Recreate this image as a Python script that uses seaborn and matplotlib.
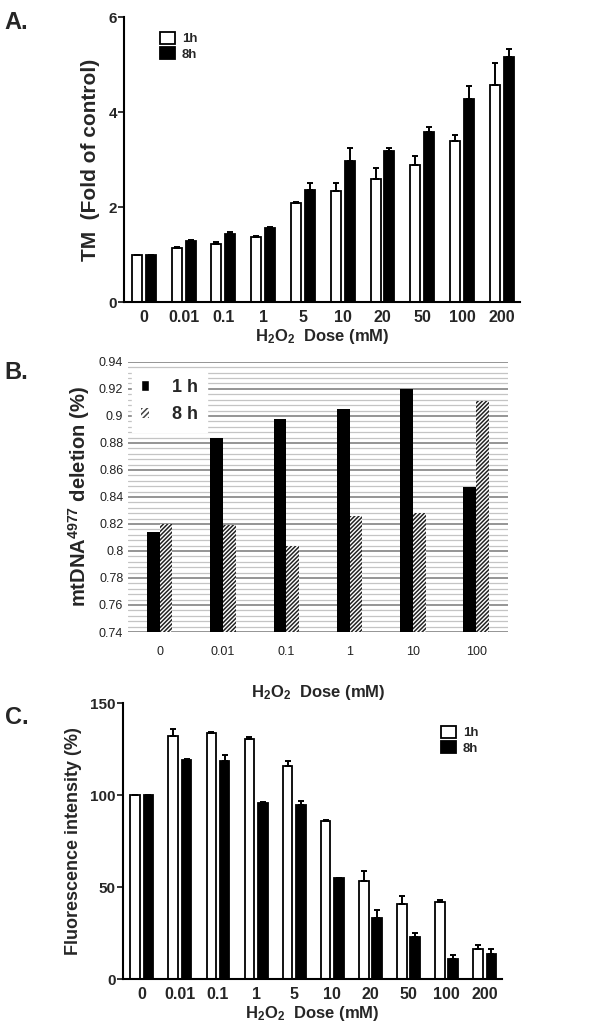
import numpy as np
import pandas as pd
import matplotlib.pyplot as plt
import matplotlib.patches as mpatches
import seaborn as sns

sns.set_style('white')
plt.rcParams['font.family'] = ['Liberation Sans', 'DejaVu Sans']
plt.rcParams['mathtext.fontset'] = 'custom'
plt.rcParams['mathtext.rm'] = 'Liberation Sans:bold'
plt.rcParams['mathtext.bf'] = 'Liberation Sans:bold'
plt.rcParams['mathtext.it'] = 'Liberation Sans:bold'
plt.rcParams['hatch.linewidth'] = 1.1

# Panel A: TM (fold of control)
doses_a = ['0', '0.01', '0.1', '1', '5', '10', '20', '50', '100', '200']
tm_1h = [1.0, 1.14, 1.23, 1.36, 2.08, 2.34, 2.60, 2.89, 3.39, 4.57]
tm_1h_err = [0.0, 0.02, 0.03, 0.03, 0.02, 0.16, 0.23, 0.19, 0.13, 0.46]
tm_8h = [1.0, 1.29, 1.44, 1.55, 2.36, 2.96, 3.18, 3.59, 4.28, 5.15]
tm_8h_err = [0.0, 0.02, 0.03, 0.03, 0.15, 0.29, 0.07, 0.09, 0.26, 0.17]

# Panel B: mtDNA4977 deletion
doses_b = ['0', '0.01', '0.1', '1', '10', '100']
del_1h = [0.814, 0.884, 0.898, 0.905, 0.920, 0.847]
del_8h = [0.820, 0.819, 0.804, 0.826, 0.828, 0.911]

# Panel C: fluorescence intensity
doses_c = ['0', '0.01', '0.1', '1', '5', '10', '20', '50', '100', '200']
fl_1h = [100.0, 132.0, 133.5, 130.5, 115.8, 85.9, 53.2, 40.9, 42.0, 16.5]
fl_1h_err = [0.0, 4.0, 0.6, 1.0, 3.0, 0.6, 5.8, 4.2, 1.0, 2.0]
fl_8h = [100.0, 119.1, 118.3, 95.7, 94.6, 54.8, 33.1, 22.8, 11.0, 13.6]
fl_8h_err = [0.0, 0.4, 3.5, 0.4, 2.4, 0.4, 4.5, 2.0, 2.0, 2.9]

fig = plt.figure(figsize=(5.96, 10.31), dpi=100)


def prism_panel(ax, doses, v1, e1, v8, e8, ymax, yticks, ylabel, ylabel_size):
    df = pd.DataFrame({'dose': doses * 2,
                       'value': v1 + v8,
                       'time': ['1h'] * len(doses) + ['8h'] * len(doses)})
    sns.barplot(data=df, x='dose', y='value', hue='time', order=doses,
                palette={'1h': 'white', '8h': 'black'}, edgecolor='black',
                linewidth=1.3, width=0.7, gap=0.28, errorbar=None, ax=ax,
                legend=False)
    for cont, vals, errs in zip(ax.containers, [v1, v8], [e1, e8]):
        xs = [b.get_x() + b.get_width() / 2 for b in cont]
        ax.errorbar(xs, vals, yerr=[np.zeros(len(errs)), errs], fmt='none',
                    ecolor='black', elinewidth=1.4, capsize=2.5, capthick=1.4)
    ax.set_xlim(-0.5, len(doses) - 0.55)
    ax.set_ylim(0, ymax)
    ax.set_yticks(yticks)
    sns.despine(ax=ax)
    for s in ['left', 'bottom']:
        ax.spines[s].set_linewidth(1.5)
        ax.spines[s].set_color('black')
    ax.tick_params(axis='y', direction='out', length=4, width=1.3, left=True,
                   labelsize=11, pad=1)
    ax.tick_params(axis='x', length=0, labelsize=11.5, pad=6)
    for t in ax.get_xticklabels() + ax.get_yticklabels():
        t.set_fontweight('bold')
    ax.set_xlabel('H$_2$O$_2$  Dose (mM)', fontsize=12, fontweight='bold',
                  labelpad=1)
    ax.set_ylabel(ylabel, fontsize=ylabel_size, fontweight='bold', labelpad=6)


handles_a = [mpatches.Patch(facecolor='white', edgecolor='black', lw=1.3, label='1h'),
             mpatches.Patch(facecolor='black', edgecolor='black', lw=1.3, label='8h')]

# ---- A ----
ax_a = fig.add_axes([0.208, 0.707, 0.664, 0.2765])
prism_panel(ax_a, doses_a, tm_1h, tm_1h_err, tm_8h, tm_8h_err, 6, [0, 2, 4, 6],
            'TM  (Fold of control)', 15)
ax_a.legend(handles=handles_a, loc='upper left', bbox_to_anchor=(0.06, 0.99),
            frameon=False, handlelength=1.2, handleheight=1.0,
            handletextpad=0.5, labelspacing=0.15, prop={'weight': 'bold', 'size': 9.5})
fig.text(0.008, 0.972, 'A.', fontsize=17, fontweight='bold')

# ---- B ----
ax_b = fig.add_axes([0.215, 0.387, 0.637, 0.262])
df_b = pd.DataFrame({'dose': doses_b * 2,
                     'value': del_1h + del_8h,
                     'time': ['1 h'] * len(doses_b) + ['8 h'] * len(doses_b)})
ax_b.set_ylim(0.74, 0.94)
for y in np.arange(0.74, 0.9401, 0.004):
    major = abs((y - 0.74) / 0.02 - round((y - 0.74) / 0.02)) < 1e-6
    ax_b.axhline(y, color='#8c8c8c' if major else '#c4c4c4',
                 lw=1.3 if major else 0.9, zorder=0)
sns.barplot(data=df_b, x='dose', y='value', hue='time', order=doses_b,
            palette={'1 h': 'black', '8 h': 'white'}, width=0.4, gap=0,
            errorbar=None, ax=ax_b, legend=False, linewidth=0, zorder=2)
for b in ax_b.containers[1]:
    b.set_hatch('////////')
    b.set_edgecolor('#222222')
    b.set_linewidth(0)
# Excel-style bars start at the axis floor
for cont, vals in zip(ax_b.containers, [del_1h, del_8h]):
    for b, v in zip(cont, vals):
        b.set_y(0.74)
        b.set_height(v - 0.74)
ax_b.set_ylim(0.74, 0.94)
ax_b.set_xlim(-0.5, 5.5)
ax_b.set_yticks(np.arange(0.74, 0.9401, 0.02))
ax_b.set_yticklabels(['0.74', '0.76', '0.78', '0.8', '0.82', '0.84', '0.86',
                      '0.88', '0.9', '0.92', '0.94'])
for s in ax_b.spines.values():
    s.set_visible(False)
ax_b.tick_params(length=0, labelsize=9, labelcolor='#222222')
ax_b.tick_params(axis='x', pad=10)
ax_b.set_xlabel('H$_2$O$_2$  Dose (mM)', fontsize=12, fontweight='bold', labelpad=18)
ax_b.set_ylabel('mtDNA$^{4977}$ deletion (%)', fontsize=14.5, fontweight='bold',
                labelpad=5)
handles_b = [mpatches.Patch(facecolor='black', label='1 h'),
             mpatches.Patch(facecolor='white', hatch='//////', edgecolor='#444444',
                            lw=0, label='8 h')]
leg_b = ax_b.legend(handles=handles_b, loc='upper left', bbox_to_anchor=(0.0, 0.985),
                    frameon=True, fancybox=False, edgecolor='white',
                    facecolor='white', framealpha=1, handlelength=0.45,
                    handleheight=0.55, handletextpad=1.3, labelspacing=0.6,
                    borderpad=0.5, borderaxespad=0.2,
                    prop={'weight': 'bold', 'size': 13})
leg_b.set_zorder(3)
fig.text(0.008, 0.632, 'B.', fontsize=17, fontweight='bold')

# ---- C ----
ax_c = fig.add_axes([0.206, 0.0504, 0.636, 0.2676])
prism_panel(ax_c, doses_c, fl_1h, fl_1h_err, fl_8h, fl_8h_err, 150, [0, 50, 100, 150],
            'Fluorescence intensity (%)', 13)
ax_c.legend(handles=handles_a, loc='upper right', bbox_to_anchor=(0.97, 0.96),
            frameon=False, handlelength=1.2, handleheight=1.0,
            handletextpad=0.5, labelspacing=0.15, prop={'weight': 'bold', 'size': 9.5})
fig.text(0.008, 0.298, 'C.', fontsize=17, fontweight='bold')

fig.savefig('out.png', dpi=100)
